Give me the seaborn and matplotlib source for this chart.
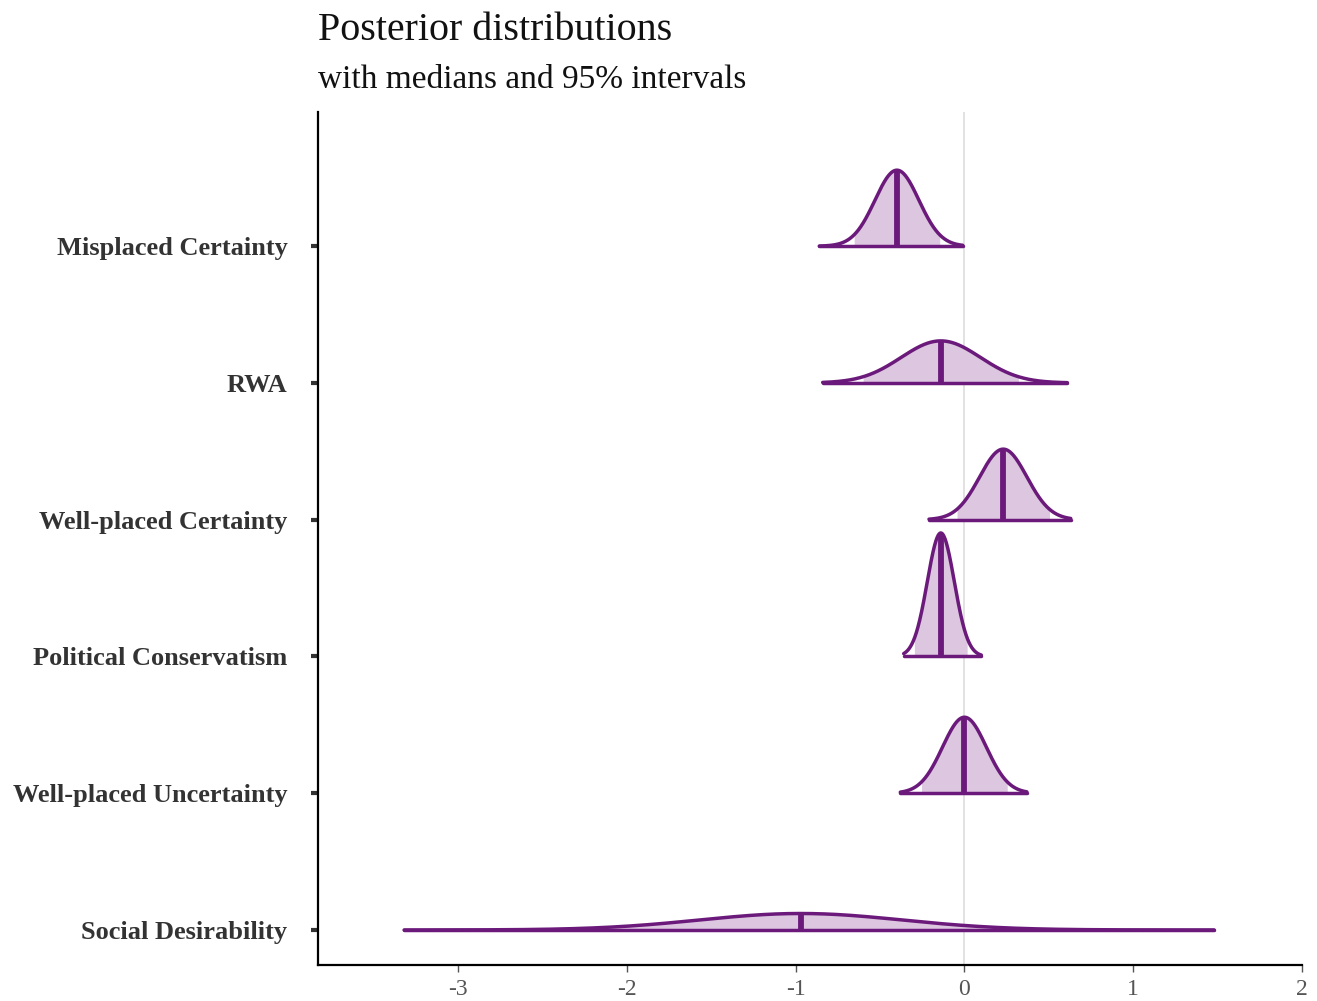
import numpy as np
import pandas as pd
import matplotlib
matplotlib.use("Agg")
import matplotlib.pyplot as plt
import seaborn as sns

# Parâmetros (de cima para baixo)
parametros = ['Misplaced Certainty', 'RWA', 'Well-placed Certainty',
              'Political Conservatism', 'Well-placed Uncertainty', 'Social Desirability']
medianas = [-0.40, -0.14, 0.23, -0.14, 0.00, -0.97]
desvios = [0.130, 0.235, 0.140, 0.080, 0.130, 0.600]
limite_inf = [-0.86, -0.84, -0.21, -0.36, -0.38, -3.32]
limite_sup = [-0.01, 0.61, 0.63, 0.10, 0.37, 1.48]
x_ticks = [-3, -2, -1, 0, 1, 2]

COR_LINHA = '#6b1a7b'
COR_PREENCHIMENTO = '#dcc6e0'
ESCALA = 0.181  # altura (em unidades de categoria) por unidade de densidade

sns.set_theme(style='white')
plt.rcParams['font.family'] = ['Liberation Serif', 'DejaVu Serif']

fig = plt.figure(figsize=(13.17, 10.01), dpi=100)
ax = fig.add_axes([0.2415, 0.036, 0.7471, 0.852])

ax.axvline(0, color='#dddddd', lw=1.2, zorder=0)

n = len(parametros)
for i, nome in enumerate(parametros):
    base = n - 1 - i
    mu, sd = medianas[i], desvios[i]
    xs = np.linspace(limite_inf[i], limite_sup[i], 400)
    dens = np.exp(-0.5 * ((xs - mu) / sd) ** 2) / (sd * np.sqrt(2 * np.pi))
    ys = base + ESCALA * dens
    df = pd.DataFrame({'x': xs, 'y': ys})
    # área do intervalo de 95%
    dentro = (xs >= mu - 1.96 * sd) & (xs <= mu + 1.96 * sd)
    ax.fill_between(xs[dentro], base, ys[dentro], color=COR_PREENCHIMENTO, lw=0, zorder=1)
    sns.lineplot(data=df, x='x', y='y', ax=ax, color=COR_LINHA, lw=2.5, zorder=3,
                 sort=False, estimator=None)
    ax.plot([limite_inf[i], limite_sup[i]], [base, base], color=COR_LINHA, lw=2.5, zorder=3)
    altura_med = base + ESCALA / (sd * np.sqrt(2 * np.pi))
    ax.plot([mu, mu], [base, altura_med], color=COR_LINHA, lw=4.2, zorder=2,
            solid_capstyle='butt')

ax.set_xlim(-3.83, 2.0)
ax.set_ylim(-0.256, 5.98)
ax.set_xticks(x_ticks)
ax.set_xticklabels([str(t) for t in x_ticks], fontsize=17, color='#555555')
ax.set_yticks(range(n))
ax.set_yticklabels(parametros[::-1], fontsize=19, fontweight='bold', color='#333333')
ax.set_xlabel('')
ax.set_ylabel('')

for lado in ['top', 'right']:
    ax.spines[lado].set_visible(False)
for lado in ['left', 'bottom']:
    ax.spines[lado].set_color('black')
    ax.spines[lado].set_linewidth(1.6)
ax.tick_params(axis='y', which='major', length=5, width=3, color='#333333', left=True, pad=17)
ax.tick_params(axis='x', which='major', length=5, width=1, color='#555555', bottom=True, pad=5)

fig.text(0.2415, 0.96, 'Posterior distributions', fontsize=28.8, color='#111111', va='baseline')
fig.text(0.2415, 0.912, 'with medians and 95% intervals', fontsize=24, color='#111111', va='baseline')

fig.savefig('out.png', dpi=100)
